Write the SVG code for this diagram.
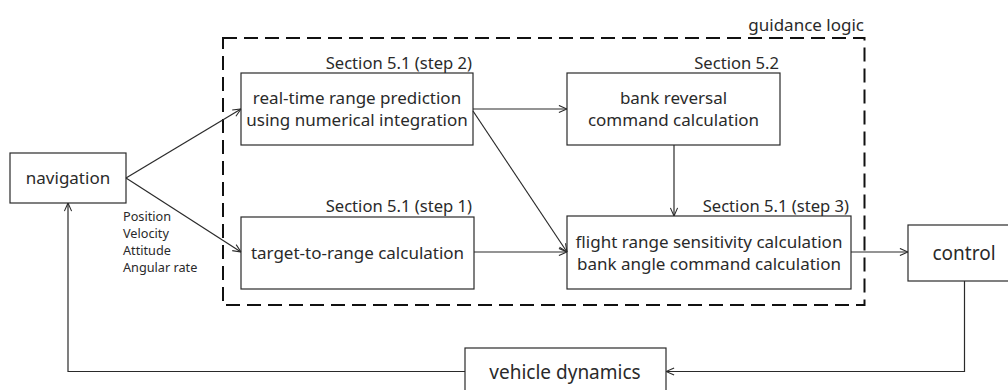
<svg xmlns="http://www.w3.org/2000/svg" width="1008" height="390" viewBox="0 0 1008 390">
  <style>
    .box { fill: #fff; stroke: #2a2a2a; stroke-width: 1.2; }
    .lbl { font-family: "Noto Sans", "Open Sans", sans-serif; font-size: 17px; fill: #2a2a2a; }
    .big { font-size: 19px; }
    .sec { font-family: "Noto Sans", "Open Sans", sans-serif; font-size: 16.6px; fill: #2a2a2a; text-anchor: end; }
    .sig { font-family: "Noto Sans", "Open Sans", sans-serif; font-size: 12.7px; fill: #2a2a2a; }
    .mid { text-anchor: middle; }
    .wire { fill: none; stroke: #2a2a2a; stroke-width: 1.2; }
  </style>
  <defs>
    <marker id="arrow" viewBox="0 0 10 10" refX="10" refY="5" markerWidth="9" markerHeight="9" markerUnits="userSpaceOnUse" orient="auto">
      <path d="M1,1 L10,5 L1,9" fill="none" stroke="#2a2a2a" stroke-width="1.2"/>
    </marker>
  </defs>
  <rect width="1008" height="390" fill="#fff"/>

  <!-- guidance logic boundary -->
  <g id="guidance">
    <rect x="223" y="38" width="641.5" height="267" fill="none" stroke="#111" stroke-width="2" stroke-dasharray="14 7"/>
    <text class="lbl" x="864" y="31" text-anchor="end" font-size="20.5">guidance logic</text>
  </g>

  <g id="navigation">
    <rect class="box" x="10" y="153" width="116" height="50"/>
    <text class="lbl mid" x="68" y="184">navigation</text>
  </g>

  <g id="range-prediction">
    <text class="sec" x="472" y="69">Section 5.1 (step 2)</text>
    <rect class="box" x="241" y="73" width="232" height="72"/>
    <text class="lbl mid" x="357" y="104">real-time range prediction</text>
    <text class="lbl mid" x="357" y="126">using numerical integration</text>
  </g>

  <g id="bank-reversal">
    <text class="sec" x="779" y="69">Section 5.2</text>
    <rect class="box" x="567" y="73" width="213" height="72"/>
    <text class="lbl mid" x="673.5" y="104">bank reversal</text>
    <text class="lbl mid" x="673.5" y="126">command calculation</text>
  </g>

  <g id="target-to-range">
    <text class="sec" x="472" y="212">Section 5.1 (step 1)</text>
    <rect class="box" x="241" y="217" width="233" height="72"/>
    <text class="lbl mid" x="357.5" y="259">target-to-range calculation</text>
  </g>

  <g id="sensitivity">
    <text class="sec" x="849" y="212">Section 5.1 (step 3)</text>
    <rect class="box" x="567" y="216" width="284" height="73"/>
    <text class="lbl mid" x="709" y="248">flight range sensitivity calculation</text>
    <text class="lbl mid" x="709" y="270">bank angle command calculation</text>
  </g>

  <g id="control">
    <rect class="box" x="908" y="225" width="120" height="56"/>
    <text class="lbl big mid" x="964" y="260">control</text>
  </g>

  <g id="vehicle-dynamics">
    <rect class="box" x="465" y="348" width="201" height="50"/>
    <text class="lbl big mid" x="565" y="379">vehicle dynamics</text>
  </g>

  <g id="connectors">
    <line class="wire" x1="126" y1="178" x2="241" y2="109" marker-end="url(#arrow)"/>
    <line class="wire" x1="126" y1="178" x2="241" y2="252" marker-end="url(#arrow)"/>
    <line class="wire" x1="473" y1="109" x2="567" y2="109" marker-end="url(#arrow)"/>
    <line class="wire" x1="473" y1="111" x2="567" y2="252" marker-end="url(#arrow)"/>
    <line class="wire" x1="474" y1="252" x2="567" y2="252" marker-end="url(#arrow)"/>
    <line class="wire" x1="674" y1="145" x2="674" y2="216" marker-end="url(#arrow)"/>
    <line class="wire" x1="851" y1="252" x2="908" y2="252" marker-end="url(#arrow)"/>
    <polyline class="wire" points="964.5,281 964.5,371.5 666,371.5" marker-end="url(#arrow)"/>
    <polyline class="wire" points="465,371.5 68,371.5 68,203" marker-end="url(#arrow)"/>
    <text class="sig" x="123" y="221">Position</text>
    <text class="sig" x="123" y="238">Velocity</text>
    <text class="sig" x="123" y="255">Attitude</text>
    <text class="sig" x="123" y="272">Angular rate</text>
  </g>
</svg>
